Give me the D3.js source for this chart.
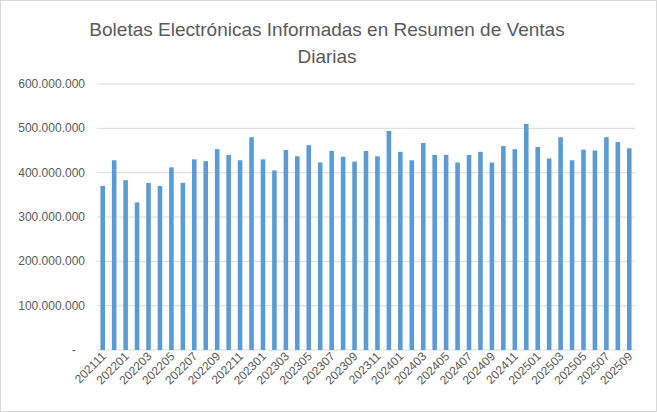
<!DOCTYPE html>
<html><head><meta charset="utf-8">
<script src="https://cdn.jsdelivr.net/npm/d3@7"></script>
<style>body{margin:0;background:#fff}svg{font-family:"Liberation Sans",Arial,sans-serif}</style>
</head><body><svg id="c" width="657" height="412"></svg>
<script>
const months=["202111","202112","202201","202202","202203","202204","202205","202206","202207","202208","202209","202210","202211","202212","202301","202302","202303","202304","202305","202306","202307","202308","202309","202310","202311","202312","202401","202402","202403","202404","202405","202406","202407","202408","202409","202410","202411","202412","202501","202502","202503","202504","202505","202506","202507","202508","202509"];
const values=[370,428,383,333,377,370,412,377,430,426,453,440,428,480,430,405,451,437,462,423,449,436,425,449,437,494,447,428,467,440,440,423,440,447,423,460,453,510,458,432,480,428,452,450,480,469,455].map(v=>v*1e6);
const yTicks=[0,1e8,2e8,3e8,4e8,5e8,6e8];
const title=["Boletas Electrónicas Informadas en Resumen de Ventas","Diarias"];

const svg=d3.select("#c");
svg.append("rect").attr("x",0.5).attr("y",0.5).attr("width",656).attr("height",411).attr("fill","#fff").attr("stroke","#d9d9d9");
const x=d3.scaleBand().domain(months).range([97,635]).paddingInner(0.6).paddingOuter(0.3);
const y=d3.scaleLinear().domain([0,6e8]).range([350,84]);
const fmt=v=>v===0?"-":d3.format(",")(v).replace(/,/g,".");
svg.append("g").selectAll("line").data(yTicks).join("line")
 .attr("x1",97).attr("x2",635).attr("y1",d=>y(d)).attr("y2",d=>y(d)).attr("stroke","#d9d9d9");
svg.append("g").selectAll("text").data(yTicks).join("text")
 .attr("x",d=>d===0?76:85).attr("y",d=>y(d)+4).attr("text-anchor","end").attr("font-size",12).attr("fill","#595959").text(fmt);
svg.append("g").selectAll("rect").data(months).join("rect")
 .attr("x",d=>x(d)).attr("width",x.bandwidth()).attr("y",(d,i)=>y(values[i])).attr("height",(d,i)=>350-y(values[i])).attr("fill","#5b9bd5");
svg.append("g").selectAll("text").data(months.filter((d,i)=>i%2===0)).join("text")
 .attr("transform",d=>`translate(${x(d)+x.bandwidth()/2+4},${357}) rotate(-45)`)
 .attr("text-anchor","end").attr("font-size",12).attr("fill","#595959").text(d=>d);
svg.append("g").selectAll("text").data(title).join("text")
 .attr("x",327).attr("y",(d,i)=>36+i*27).attr("text-anchor","middle").attr("font-size",19).attr("fill","#595959").text(d=>d);
</script></body></html>
